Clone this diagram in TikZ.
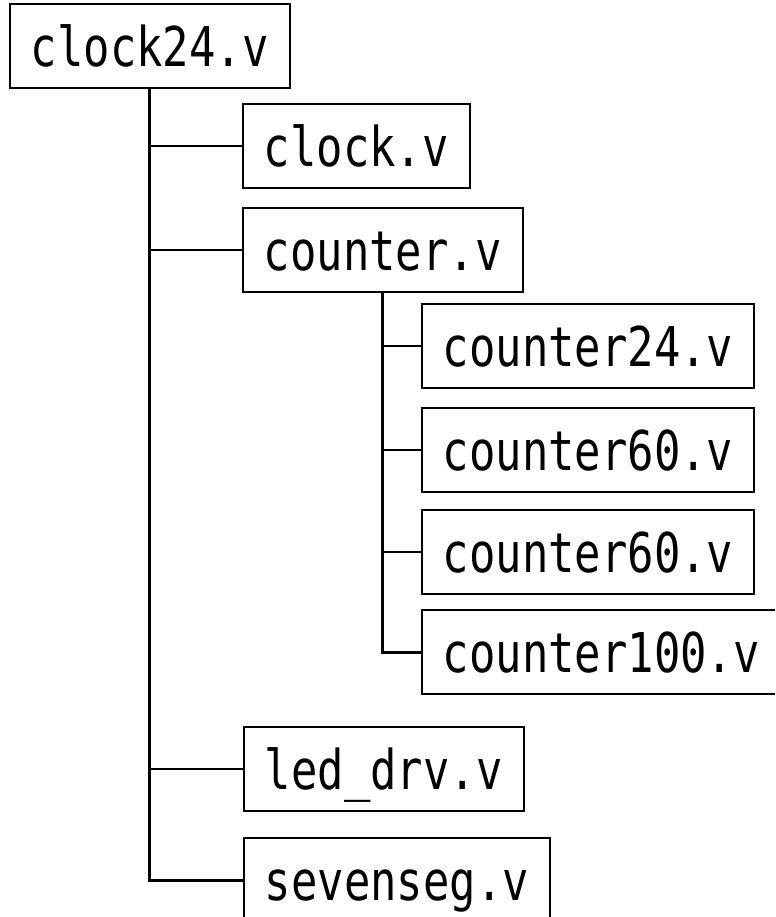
\documentclass[tikz,border=0pt]{standalone}
\usepackage{fontspec}
\usepackage{tikz}
\usetikzlibrary{positioning}
\newfontfamily\filefont[FakeStretch=0.8]{DejaVu Sans Mono}

\tikzset{
    filebox/.style={draw, line width=1.1pt, anchor=west, inner xsep=0.42cm,
        minimum height=1.68cm, text height=22.8pt, text depth=0pt,
        font=\filefont\fontsize{31.2pt}{36pt}\selectfont},
    trunk/.style={line width=1.7pt},
    branch/.style={line width=1.1pt}
}

\begin{document}
\begin{tikzpicture}[x=0.02cm, y=-0.02cm]
    \useasboundingbox (0,0) rectangle (775,917);
    \clip (0,0) rectangle (775,917);

    % Top module
    \node[filebox] (root) at (9,46) {clock24.v};
    % Level 1
    \node[filebox] (clk) at (242,146) {clock.v};
    \node[filebox] (cnt) at (242,250) {counter.v};
    \node[filebox] (led) at (243,769) {led\_drv.v};
    \node[filebox] (seg) at (243,880) {sevenseg.v};
    % Level 2
    \node[filebox] (cnt24) at (421,346) {counter24.v};
    \node[filebox] (cnt60a) at (421,450) {counter60.v};
    \node[filebox] (cnt60b) at (421,552) {counter60.v};
    \node[filebox] (cnt100) at (421,652) {counter100.v};

    % Tree lines
    \draw[trunk] (root.south) |- (seg.west);
    \draw[branch] (root.south |- clk.west) -- (clk.west);
    \draw[branch] (root.south |- cnt.west) -- (cnt.west);
    \draw[branch] (root.south |- led.west) -- (led.west);
    \draw[trunk] (cnt.south) |- (cnt100.west);
    \draw[branch] (cnt.south |- cnt24.west) -- (cnt24.west);
    \draw[branch] (cnt.south |- cnt60a.west) -- (cnt60a.west);
    \draw[branch] (cnt.south |- cnt60b.west) -- (cnt60b.west);
\end{tikzpicture}
\end{document}
